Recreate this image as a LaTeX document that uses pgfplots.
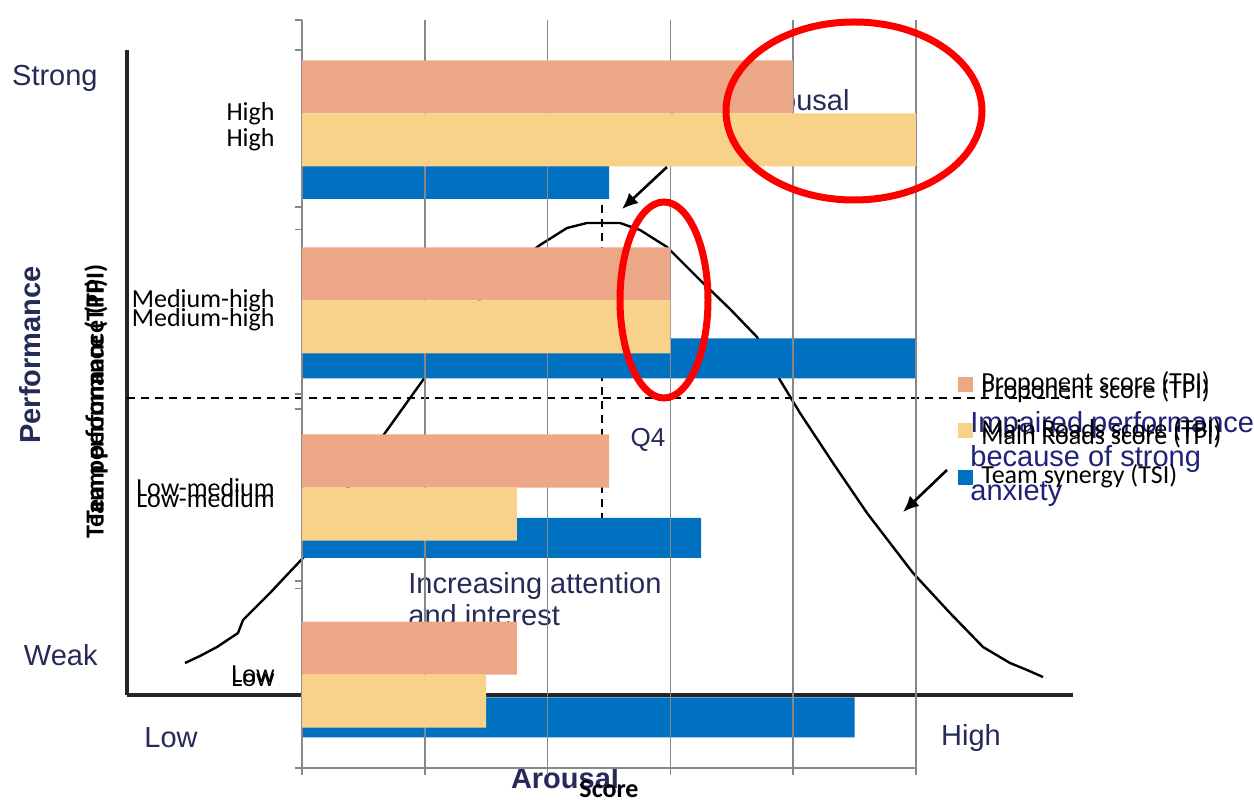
\documentclass[border=0pt]{standalone}
\usepackage{fontspec}
\setmainfont{Carlito}
\newfontfamily\arial{Liberation Sans}
\usepackage{pgfplots}
\pgfplotsset{compat=1.18}
\usetikzlibrary{arrows.meta}
\definecolor{cOrange}{RGB}{235,167,134}
\definecolor{cYellow}{RGB}{249,210,137}
\definecolor{cBlue}{RGB}{0,112,192}
\definecolor{cNavy}{RGB}{38,42,88}
\definecolor{cGrid}{RGB}{136,136,136}
\definecolor{cRed}{RGB}{255,0,0}
\begin{document}
\begin{tikzpicture}
\useasboundingbox (0,0) rectangle (627pt,399.5pt);

% ---------- background: arousal / performance curve ----------
\begin{axis}[
  at={(63.5pt,52pt)}, anchor=south west,
  scale only axis, width=473pt, height=322.5pt,
  xmin=127, xmax=1073, ymin=104, ymax=749,
  axis x line*=bottom, axis y line*=left,
  axis line style={line width=1.8pt, -, black!85},
  xtick={171,971}, xticklabels={Low,High},
  ytick={144,721}, yticklabels={Weak,Strong},
  major tick length=0pt,
  tick label style={font=\arial\fontsize{14.5}{17}\selectfont, color=cNavy},
  xticklabel style={anchor=center, yshift=-21.5pt},
  yticklabel style={anchor=east, inner sep=0pt, xshift=-14.5pt},
  xlabel={Arousal}, ylabel={Performance},
  every axis x label/.style={at={(rel axis cs:0.463,0)}, yshift=-41.5pt, anchor=center,
     font=\arial\bfseries\fontsize{14.5}{17}\selectfont, color=cNavy},
  every axis y label/.style={at={(rel axis cs:0,0.527)}, xshift=-48.5pt, rotate=90, anchor=center,
     font=\arial\bfseries\fontsize{14.5}{17}\selectfont, color=cNavy},
  clip=false,
]
\addplot[black, line width=1.2pt] coordinates {
(185,136) (200,143) (217,152) (238,166) (243,179) (256,192) (270,206) (285,222)
(303,241) (340,300) (385,366) (423,419) (450,459) (480,499) (510,531) (540,554)
(567,571) (587,576) (620,576) (640,569) (667,552) (700,519) (730,490) (757,462)
(780,419) (800,386) (833,336) (867,286) (913,226) (950,186) (983,152) (1010,136)
(1027,129) (1043,122)};
\addplot[black, line width=0.7pt, dash pattern=on 4pt off 3pt] coordinates {(127,401) (1070,401)};
\addplot[black, line width=0.7pt, dash pattern=on 4pt off 3pt] coordinates {(602,594) (602,279)};
\node[anchor=east, inner sep=0pt, font=\arial\fontsize{14.5}{17}\selectfont, color=cNavy] at (axis cs:850,696) {Optimal arousal};
\node[anchor=center, inner sep=0pt, font=\arial\fontsize{13}{16}\selectfont, color=cNavy] at (axis cs:648,359) {Q4};
\node[anchor=west, inner sep=0pt, align=left, font=\arial\fontsize{14.5}{16}\selectfont, color=cNavy] at (axis cs:408,200) {Increasing attention\\and interest};
\node[anchor=west, inner sep=0pt, align=left, font=\arial\fontsize{14.5}{16.75}\selectfont, color=cNavy!80!blue] at (axis cs:970,340) {Impaired performance\\because of strong\\anxiety};
\end{axis}

% ---------- second chart: team synergy ----------
\begin{axis}[
  at={(151pt,15.5pt)}, anchor=south west,
  scale only axis, width=307pt, height=359pt,
  xmin=0, xmax=5, ymin=-0.5, ymax=3.5,
  xbar, bar width=20pt, bar shift=-19.5pt,
  hide x axis,
  axis y line*=left, axis line style={cGrid, line width=0.8pt, -},
  ytick={-0.5,0.5,1.5,2.5,3.5}, yticklabels={},
  extra y ticks={0,1,2,3}, extra y tick labels={Low,Low-medium,Medium-high,High},
  extra y tick style={major tick length=0pt, yticklabel style={anchor=east, inner sep=0pt, xshift=-13.5pt}},
  tick align=outside, major tick length=3.5pt, tick style={cGrid, line width=0.8pt},
  tick label style={font=\fontsize{13}{15}\selectfont},
  ylabel={Team performance (TPI)},
  every axis y label/.style={at={(rel axis cs:0,0.5)}, xshift=-103pt, rotate=90, anchor=center,
     font=\bfseries\fontsize{13}{15}\selectfont},
  clip=false,
]
\addplot[fill=cBlue, draw=none] coordinates {(4.5,0) (3.25,1) (5,2) (2.5,3)};
\end{axis}

% ---------- main chart: TPI scores ----------
\begin{axis}[
  at={(151pt,15.5pt)}, anchor=south west,
  scale only axis, width=307pt, height=374pt,
  xmin=0, xmax=5, ymin=-0.5, ymax=3.5,
  xbar, bar width=26.5pt,
  axis x line*=bottom, axis y line*=left,
  axis line style={cGrid, line width=0.8pt, -},
  xtick={0,...,5}, xticklabels={},
  xmajorgrids, grid style={cGrid, line width=0.8pt},
  ytick={-0.5,0.5,1.5,2.5,3.5}, yticklabels={},
  extra y ticks={0,1,2,3}, extra y tick labels={Low,Low-medium,Medium-high,High},
  extra y tick style={major tick length=0pt, yticklabel style={anchor=east, inner sep=0pt, xshift=-13.5pt}},
  tick align=outside, major tick length=3.5pt, tick style={cGrid, line width=0.8pt},
  tick label style={font=\fontsize{13}{15}\selectfont},
  xlabel={Score}, ylabel={Team performance (TPI)},
  every axis x label/.style={at={(rel axis cs:0.5,0)}, yshift=-10.5pt, anchor=center,
     font=\bfseries\fontsize{13}{15}\selectfont},
  every axis y label/.style={at={(rel axis cs:0,0.5)}, xshift=-103pt, rotate=90, anchor=center,
     font=\bfseries\fontsize{13}{15}\selectfont},
  legend image code/.code={\fill[#1] (0pt,-3.75pt) rectangle (7.5pt,3.75pt);},
  legend style={at={(rel axis cs:1.0684,0.530)}, anchor=north west, draw=none, fill=none,
    inner sep=0pt, row sep=10.75pt, font=\fontsize{13}{15}\selectfont,
    nodes={inner sep=0pt, text height=9.5pt, text depth=3pt},
    /tikz/every odd column/.append style={column sep=4pt}},
  legend cell align=left,
  clip=false,
]
\addplot[fill=cOrange, draw=none, bar shift=13.25pt] coordinates {(1.75,0) (2.5,1) (3,2) (4,3)};
\addlegendentry{Proponent score (TPI)}
\addplot[fill=cYellow, draw=none, bar shift=-13.25pt] coordinates {(1.5,0) (1.75,1) (3,2) (5,3)};
\addlegendentry{Main Roads score (TPI)}
\addlegendimage{fill=cBlue, draw=none}
\addlegendentry{Team synergy (TSI)}
\end{axis}

% second (overprinted) copies of two legend texts
\node[anchor=base west, inner sep=0pt, font=\fontsize{13}{15}\selectfont] at (490.5pt,200pt) {Proponent score (TPI)};
\node[anchor=base west, inner sep=0pt, font=\fontsize{13}{15}\selectfont] at (490.5pt,177pt) {Main Roads score (TPI)};

% ---------- annotations ----------
\draw[cRed, line width=3.5pt] (427pt,344pt) ellipse [x radius=64pt, y radius=44.5pt];
\draw[cRed, line width=3.5pt] (332pt,249.5pt) ellipse [x radius=22pt, y radius=49pt];
\draw[black, line width=1.3pt, -{Latex[length=8pt,width=7pt]}] (333.5pt,316pt) -- (311pt,295pt);
\draw[black, line width=1.3pt, -{Latex[length=8pt,width=7pt]}] (473.5pt,164.5pt) -- (451.5pt,143.5pt);
\end{tikzpicture}
\end{document}
